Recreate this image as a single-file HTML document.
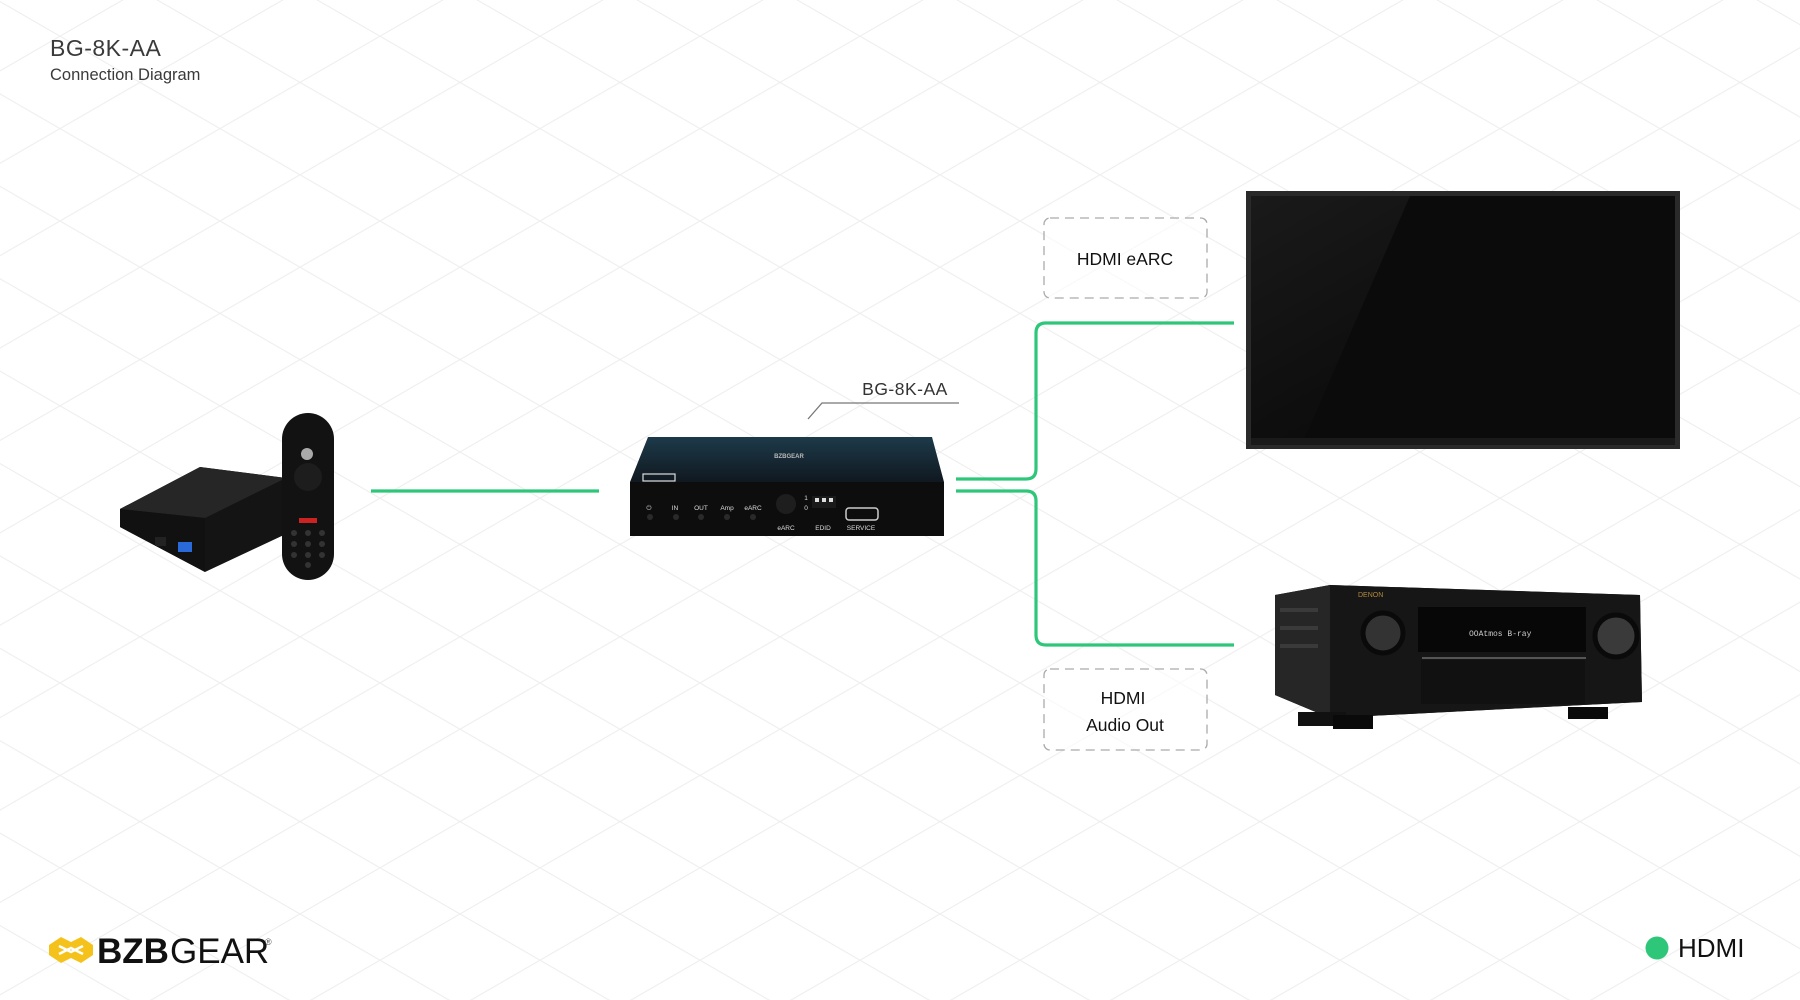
<!DOCTYPE html>
<html><head><meta charset="utf-8"><style>
html,body{margin:0;padding:0;background:#fff;}
svg{display:block;font-family:"Liberation Sans",sans-serif;}
</style></head><body>
<svg width="1800" height="1000" viewBox="0 0 1800 1000" xmlns="http://www.w3.org/2000/svg">
<defs>
<pattern id="grid" width="160" height="92.4" patternUnits="userSpaceOnUse" x="-20" y="-10">
<path d="M0 0L160 92.4M0 92.4L160 0" stroke="#eeeeee" stroke-width="1.1" fill="none"/>
</pattern>
<linearGradient id="tv" x1="0" y1="0" x2="1" y2="1">
<stop offset="0" stop-color="#1a1a1a"/><stop offset="0.5" stop-color="#0e0e0e"/><stop offset="1" stop-color="#050505"/>
</linearGradient>
<linearGradient id="boxtop" x1="0" y1="0" x2="0" y2="1">
<stop offset="0" stop-color="#1d3a4a"/><stop offset="1" stop-color="#101820"/>
</linearGradient>
</defs>
<rect width="1800" height="1000" fill="url(#grid)"/>

<text x="50" y="56" font-size="23" fill="#3a3a3a" letter-spacing="0.5">BG-8K-AA</text>
<text x="50" y="80" font-size="16.5" fill="#3a3a3a">Connection Diagram</text>

<g stroke="#2ec77a" stroke-width="3.2" fill="none">
<path d="M371 491H599"/>
<path d="M956 479H1026q10 0 10-10V333q0-10 10-10H1234"/>
<path d="M956 491H1026q10 0 10 10V635q0 10 10 10H1234"/>
</g>

<rect x="1044" y="218" width="163" height="80" rx="6" fill="#fff" fill-opacity="0.6" stroke="#aaa" stroke-width="1.3" stroke-dasharray="9 6"/>
<text x="1125" y="265" font-size="17.5" text-anchor="middle" fill="#111">HDMI eARC</text>
<rect x="1044" y="669" width="163" height="81" rx="6" fill="#fff" fill-opacity="0.6" stroke="#aaa" stroke-width="1.3" stroke-dasharray="9 6"/>
<text x="1123" y="704" font-size="17.5" text-anchor="middle" fill="#111">HDMI</text>
<text x="1125" y="731" font-size="17.5" text-anchor="middle" fill="#111">Audio Out</text>

<rect x="1246" y="191" width="434" height="258" fill="#2a2a2a"/>
<rect x="1251" y="196" width="424" height="242" fill="url(#tv)"/>
<path d="M1410 196H1675V438H1305Z" fill="#0b0b0b"/>
<rect x="1251" y="438" width="424" height="7" fill="#1a1a1a"/>

<g>
<path d="M1275 595L1330 585L1640 595L1642 702L1330 718L1275 695Z" fill="#1c1c1c"/>
<path d="M1330 585L1640 595L1642 702L1330 718Z" fill="#161616"/>
<path d="M1275 595L1330 585L1330 718L1275 695Z" fill="#262626"/>
<g stroke="#3a3a3a" stroke-width="4"><path d="M1280 610H1318M1280 628H1318M1280 646H1318"/></g>
<rect x="1418" y="607" width="168" height="45" fill="#070707"/>
<rect x="1422" y="657" width="164" height="2" fill="#555"/>
<rect x="1421" y="660" width="164" height="44" fill="#111"/>
<circle cx="1383" cy="633" r="20" fill="#333" stroke="#0a0a0a" stroke-width="5"/>
<circle cx="1616" cy="636" r="21" fill="#3a3a3a" stroke="#0a0a0a" stroke-width="5"/>
<text x="1358" y="597" font-size="7" fill="#b08a40">DENON</text>
<text x="1469" y="636" font-size="8" fill="#ccc" font-family="Liberation Mono,monospace">OOAtmos   B-ray</text>
<rect x="1298" y="712" width="48" height="14" fill="#111"/>
<rect x="1333" y="715" width="40" height="14" fill="#0a0a0a"/>
<rect x="1568" y="707" width="40" height="12" fill="#0a0a0a"/>
</g>

<path d="M648 437L932 437L944 482L630 482Z" fill="url(#boxtop)"/>
<rect x="630" y="482" width="314" height="54" fill="#0d0d0d"/>
<text x="789" y="458" font-size="6" fill="#bbb" text-anchor="middle" font-weight="bold">BZBGEAR</text>
<rect x="643" y="474" width="32" height="7" fill="none" stroke="#ddd" stroke-width="1.2"/>
<g font-size="6.5" fill="#ddd" text-anchor="middle">
<text x="649" y="510">⏻</text><text x="675" y="510">IN</text><text x="701" y="510">OUT</text><text x="727" y="510">Amp</text><text x="753" y="510">eARC</text>
<text x="786" y="530">eARC</text><text x="823" y="530">EDID</text><text x="861" y="530">SERVICE</text>
<text x="806" y="500">1</text><text x="806" y="510">0</text>
</g>
<g fill="#2a2a2a"><circle cx="650" cy="517" r="3"/><circle cx="676" cy="517" r="3"/><circle cx="701" cy="517" r="3"/><circle cx="727" cy="517" r="3"/><circle cx="753" cy="517" r="3"/></g>
<circle cx="786" cy="504" r="10" fill="#1e1e1e"/>
<rect x="812" y="496" width="24" height="12" fill="#1a1a1a"/>
<g fill="#ddd"><rect x="815" y="498" width="4" height="4"/><rect x="822" y="498" width="4" height="4"/><rect x="829" y="498" width="4" height="4"/></g>
<rect x="846" y="508" width="32" height="12" rx="3" fill="none" stroke="#ccc" stroke-width="1.5"/>

<text x="905" y="395" font-size="17.5" text-anchor="middle" fill="#333" letter-spacing="0.5">BG-8K-AA</text>
<path d="M959 403H822L808 419" stroke="#777" stroke-width="1.3" fill="none"/>

<path d="M120 509L200 467L286 478L286 534L205 572L120 527Z" fill="#141414"/>
<path d="M120 509L200 467L286 478L205 518Z" fill="#262626"/>
<path d="M120 509L205 518L205 572L120 527Z" fill="#111"/>
<rect x="178" y="542" width="14" height="10" fill="#2a6ad8"/>
<rect x="155" y="537" width="11" height="9" fill="#222"/>
<rect x="282" y="413" width="52" height="167" rx="26" fill="#121212"/>
<circle cx="308" cy="477" r="14" fill="#1d1d1d"/>
<circle cx="307" cy="454" r="6" fill="#aaa"/>
<rect x="299" y="518" width="18" height="5" fill="#c22"/>
<g fill="#333"><circle cx="294" cy="533" r="3"/><circle cx="308" cy="533" r="3"/><circle cx="322" cy="533" r="3"/><circle cx="294" cy="544" r="3"/><circle cx="308" cy="544" r="3"/><circle cx="322" cy="544" r="3"/><circle cx="294" cy="555" r="3"/><circle cx="308" cy="555" r="3"/><circle cx="322" cy="555" r="3"/><circle cx="308" cy="565" r="3"/></g>

<g transform="translate(49,935)">
<path d="M0 10L12 2L22 7L32 2L44 10V20L32 28L22 23L12 28L0 20Z" fill="#f5c21b"/>
<path d="M10 11L22 17L34 11M10 19L22 13L34 19" stroke="#fff" stroke-width="2.5" fill="none"/>
</g>
<text x="97" y="963" font-size="35" font-weight="bold" fill="#111">BZB</text>
<text x="170" y="963" font-size="35" fill="#111">GEAR</text>
<text x="265" y="945" font-size="9" fill="#555">®</text>

<circle cx="1657" cy="948" r="11.5" fill="#2ec77a"/>
<text x="1678" y="957" font-size="26" fill="#111">HDMI</text>
</svg>
</body></html>
